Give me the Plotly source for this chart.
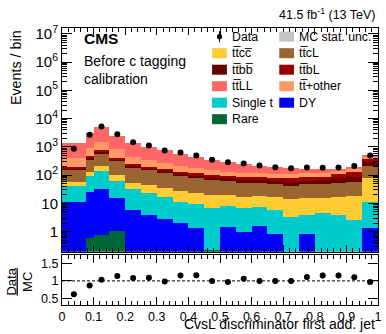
import numpy as np
import plotly.graph_objects as go

# ---------------- data ----------------
bin_edges = [0.0, 0.075, 0.1, 0.15, 0.2, 0.25, 0.3, 0.35, 0.4, 0.45, 0.5,
             0.55, 0.6, 0.65, 0.7, 0.75, 0.8, 0.85, 0.9, 0.95, 1.0]

data_counts = [850, 2660, 5240, 2820, 1470, 1110, 740, 630, 492, 347,
               287, 256, 218, 191, 176, 185, 181, 185, 212, 492]

ratio_vals = [0.62, 0.87, 1.03, 1.14, 1.08, 1.09, 0.98, 1.15, 1.16, 1.00,
              0.97, 1.06, 1.00, 1.00, 1.00, 1.11, 1.15, 1.15, 1.10, 0.97]
ratio_errs = [0.021, 0.017, 0.014, 0.021, 0.028, 0.033, 0.036, 0.046, 0.052, 0.054,
              0.057, 0.066, 0.068, 0.072, 0.075, 0.082, 0.086, 0.085, 0.076, 0.044]

x_tick_vals = [0.0, 0.1, 0.2, 0.3, 0.4, 0.5, 0.6, 0.7, 0.8, 0.9, 1.0]
x_tick_text = ["0", "0.1", "0.2", "0.3", "0.4", "0.5", "0.6", "0.7", "0.8", "0.9", "1"]

# stacked MC components (events / bin), bottom of stack first
rare     = [0.0, 0.6, 0.76, 1.06, 0.0, 0.0, 0.0, 0.0, 0.0, 0.22,
            0.0, 0.0, 0.0, 0.0, 0.0, 0.0, 0.0, 0.0, 0.0, 0.0]
dy       = [11.6, 25.4, 31.0, 15.0, 5.9, 3.9, 2.75, 1.98, 1.32, 0.0,
            1.43, 1.0, 1.59, 0.8, 0.0, 0.83, 0.0, 0.0, 0.0, 1.39]
single_t = [30, 68, 109, 46.5, 26, 19, 13.8, 9.6, 8.3, 6.5,
            6.7, 5.7, 5.6, 5.1, 3.4, 3.1, 4.5, 3.9, 2.6, 10.2]
ttcc     = [17, 39, 72, 39.5, 22.6, 22, 19.5, 16.7, 13.4, 13.3,
            11.9, 10.7, 11.2, 10.7, 10.7, 11.3, 11.5, 13.5, 15.8, 66.4]
ttcl     = [94, 234, 386, 225, 137, 108, 91, 68, 59, 48,
            44, 37, 33.4, 31.2, 28.5, 32.6, 31.8, 37, 40.6, 134]
ttbb     = [15, 45, 75, 37, 24, 19, 18, 15, 14, 14,
            13, 14, 16, 16.2, 16.4, 16.2, 20, 23.6, 29.6, 90]
ttbl     = [23, 68, 110, 54, 35, 28, 26, 22, 21, 20,
            17, 17, 16.8, 18, 19, 20.6, 20.8, 33, 44.4, 96]
tt_other = [207, 420, 756, 412, 204, 147, 107, 79, 59, 51,
            39, 32, 32.4, 29, 30, 32.4, 34.4, 28, 28, 56]
ttll     = [973, 2157, 3547, 1644, 907, 671, 477, 336, 248, 194,
            163, 125, 101, 80, 68, 50, 36, 26, 31, 53]

# ---------------- styling ----------------
FONT = "Liberation Sans, Arial, Helvetica, sans-serif"
W, H = 386, 334
L, R, T, B = 62, 4, 28, 29
PW, PH = W - L - R, H - T - B

def px_x(px):
    return (px - L) / PW

def px_y(py):
    return (T + PH - py) / PH

edges = np.array(bin_edges)
centers = 0.5 * (edges[:-1] + edges[1:])
widths = np.diff(edges)

tbar = "t\u0305"
LBL_TTCC = "t" + tbar + "c" + "c\u0305"
LBL_TTCL = "t" + tbar + "cL"
LBL_TTBB = "t" + tbar + "b" + "b\u0305"
LBL_TTBL = "t" + tbar + "bL"
LBL_TTOT = "t" + tbar + "+other"
LBL_TTLL = "t" + tbar + "LL"

components = [
    ("Rare", rare, "#006633"),
    ("DY", dy, "#0000ff"),
    ("Single t", single_t, "#00cccc"),
    (LBL_TTCC, ttcc, "#ffcc33"),
    (LBL_TTCL, ttcl, "#996633"),
    (LBL_TTBB, ttbb, "#660000"),
    (LBL_TTBL, ttbl, "#990000"),
    (LBL_TTOT, tt_other, "#ff9966"),
    (LBL_TTLL, ttll, "#ff6666"),
]
colors = {name: c for name, _, c in components}

fig = go.Figure()

for name, vals, col in components:
    fig.add_trace(go.Bar(
        x=centers, y=vals, width=widths, name=name,
        marker=dict(color=col, line=dict(width=0)),
        xaxis="x", yaxis="y", showlegend=False,
    ))

fig.add_trace(go.Scatter(
    x=centers, y=data_counts, mode="markers", name="Data",
    marker=dict(color="black", size=6),
    error_y=dict(type="data", array=np.sqrt(data_counts), width=0,
                 thickness=1, color="black"),
    xaxis="x", yaxis="y", showlegend=False,
))

fig.add_trace(go.Scatter(
    x=centers, y=ratio_vals, mode="markers", name="Data/MC",
    marker=dict(color="black", size=6),
    error_y=dict(type="data", array=ratio_errs, width=0,
                 thickness=1, color="black"),
    xaxis="x2", yaxis="y2", showlegend=False,
))

# axes
dec = list(range(0, 8))
major_vals = [10.0 ** d for d in dec]
major_text = ["1", "10"] + ["10<sup>%d</sup>" % d for d in dec[2:]]
minor_vals = [m * 10.0 ** d for d in range(-1, 7) for m in range(2, 10)]

main_bot = (T + PH - 251.7)
ratio_top = (T + PH - 255)
dom_main = [main_bot / PH, 1.0]
dom_ratio = [0.0, ratio_top / PH]

axis_common = dict(showline=True, linecolor="black", linewidth=1, mirror="ticks",
                   ticks="inside", tickcolor="black", showgrid=False, zeroline=False)

def tfont(size):
    return dict(family=FONT, size=size, color="black")

fig.update_layout(
    width=W, height=H, autosize=False,
    margin=dict(l=L, r=R, t=T, b=B),
    paper_bgcolor="white", plot_bgcolor="white",
    barmode="stack", bargap=0, showlegend=False,
    font=dict(family=FONT, color="black"),
    xaxis=dict(domain=[0, 1], anchor="y", range=[0, 1],
               tickmode="array", tickvals=x_tick_vals, ticklen=7,
               showticklabels=False,
               minor=dict(dtick=0.02, ticklen=3.5, ticks="inside", tickcolor="black"),
               **axis_common),
    yaxis=dict(domain=dom_main, anchor="x", type="log", range=[-0.708, 7.205],
               tickmode="array", tickvals=major_vals, ticktext=major_text, ticklen=10,
               tickfont=tfont(15),
               minor=dict(tickmode="array", tickvals=minor_vals, ticklen=5,
                          ticks="inside", tickcolor="black"),
               **axis_common),
    xaxis2=dict(domain=[0, 1], anchor="y2", range=[0, 1],
                tickmode="array", tickvals=x_tick_vals, ticktext=x_tick_text,
                tickangle=0, ticklen=8, tickfont=tfont(12.5),
                minor=dict(dtick=0.02, ticklen=4, ticks="inside", tickcolor="black"),
                **axis_common),
    yaxis2=dict(domain=dom_ratio, anchor="x2", range=[0.32, 1.73],
                tickmode="array", tickvals=[0.5, 1, 1.5], ticktext=["0.5", "1", "1.5"],
                ticklen=10, tickfont=tfont(12.5), **axis_common),
)

# unity line in the ratio panel
fig.add_shape(type="line", xref="x2", yref="y2", x0=0, x1=1, y0=1, y1=1,
              line=dict(color="black", width=1, dash="3px,2px"))

ann = []
ann.append(dict(text="<b>CMS</b>", x=px_x(82), y=px_y(38.5), xanchor="left",
                yanchor="middle", font=dict(size=15.5)))
ann.append(dict(text="Before c tagging", x=px_x(82), y=px_y(61), xanchor="left",
                yanchor="middle", font=dict(size=14)))
ann.append(dict(text="calibration", x=px_x(82), y=px_y(79), xanchor="left",
                yanchor="middle", font=dict(size=14)))
ann.append(dict(text="41.5 fb<sup>-1</sup> (13 TeV)", x=px_x(382), y=px_y(14),
                xanchor="right", yanchor="middle", font=dict(size=12.5)))
ann.append(dict(text="CvsL discriminator first add. jet", x=px_x(381), y=px_y(334),
                xanchor="right", yanchor="bottom", font=dict(size=14)))
ann.append(dict(text="Events / bin", x=px_x(15), y=px_y(28), textangle=-90,
                xanchor="center", yanchor="top", font=dict(size=14.3)))
ann.append(dict(text="<u>Data</u><br>MC", x=px_x(19), y=px_y(282), textangle=-90,
                xanchor="center", yanchor="middle", font=dict(size=13)))

# legend: two columns of swatches and labels
row_y = [36.7, 53.2, 69.7, 86.2, 102.7, 119.2]
col1 = [("Data", None), (LBL_TTCC, colors[LBL_TTCC]), (LBL_TTBB, colors[LBL_TTBB]),
        (LBL_TTLL, colors[LBL_TTLL]), ("Single t", colors["Single t"]),
        ("Rare", colors["Rare"])]
col2 = [("MC stat. unc.", "hatch"), (LBL_TTCL, colors[LBL_TTCL]),
        (LBL_TTBL, colors[LBL_TTBL]), (LBL_TTOT, colors[LBL_TTOT]),
        ("DY", colors["DY"])]

shapes = []
for (sx0, sx1, tx), col in (((214, 229, 232), col1), ((282, 297, 300), col2)):
    for i, (label, c) in enumerate(col):
        yc = row_y[i]
        if c is None:
            xc = 0.5 * (sx0 + sx1)
            shapes.append(dict(type="line", xref="paper", yref="paper",
                               x0=px_x(xc), x1=px_x(xc), y0=px_y(yc - 5.5), y1=px_y(yc + 5.5),
                               line=dict(color="black", width=1)))
            shapes.append(dict(type="circle", xref="paper", yref="paper",
                               x0=px_x(xc - 2.6), x1=px_x(xc + 2.6),
                               y0=px_y(yc - 2.6), y1=px_y(yc + 2.6),
                               fillcolor="black", line=dict(width=0)))
        elif c == "hatch":
            shapes.append(dict(type="rect", xref="paper", yref="paper",
                               x0=px_x(sx0), x1=px_x(sx1), y0=px_y(yc + 5), y1=px_y(yc - 5),
                               fillcolor="#c4c4c4", line=dict(width=0)))
        else:
            shapes.append(dict(type="rect", xref="paper", yref="paper",
                               x0=px_x(sx0), x1=px_x(sx1), y0=px_y(yc + 5), y1=px_y(yc - 5),
                               fillcolor=c, line=dict(width=0)))
        ann.append(dict(text=label, x=px_x(tx), y=px_y(yc), xanchor="left",
                        yanchor="middle", font=dict(size=12.3)))

for a in ann:
    a.update(xref="paper", yref="paper", showarrow=False)
    a["font"] = dict(family=FONT, color="black", **a.get("font", {}))

fig.update_layout(annotations=ann, shapes=fig.layout.shapes + tuple(shapes))

fig.write_html("out.html")
